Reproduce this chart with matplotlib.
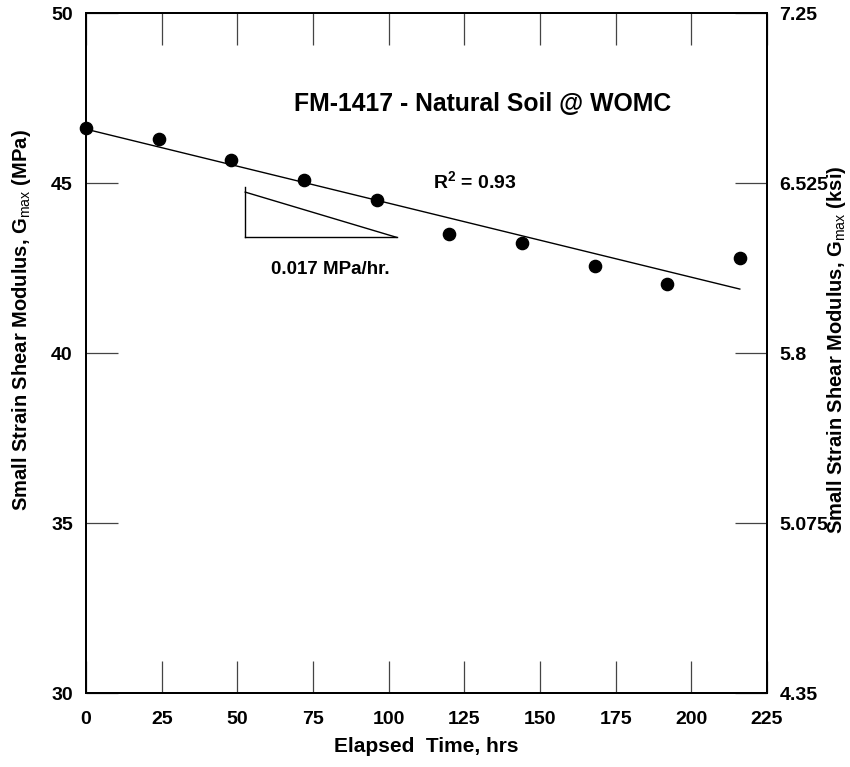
import numpy as np
import matplotlib
matplotlib.use("Agg")
import matplotlib.pyplot as plt
from matplotlib.ticker import FixedLocator, FixedFormatter

# Elapsed time (hrs) and measured small-strain shear modulus (MPa)
elapsed_hrs = [0, 24, 48, 72, 96, 120, 144, 168, 192, 216]
gmax_mpa = [46.62, 46.29, 45.69, 45.10, 44.51, 43.52, 43.25, 42.58, 42.04, 42.80]

x_ticks = [0, 25, 50, 75, 100, 125, 150, 175, 200, 225]
y_ticks_mpa = [30, 35, 40, 45, 50]
y_ticks_ksi = [4.35, 5.075, 5.8, 6.525, 7.25]
y_tick_labels_ksi = ["4.35", "5.075", "5.8", "6.525", "7.25"]

title_text = "FM-1417 - Natural Soil @ WOMC"
r2_text = r"R$^{\mathbf{2}}$ = 0.93"
rate_text = "0.017 MPa/hr."
xlabel_text = "Elapsed  Time, hrs"
ylabel_left = r"Small Strain Shear Modulus, G$_{\rm max}$ (MPa)"
ylabel_right = r"Small Strain Shear Modulus, G$_{\rm max}$ (ksi)"

# slope triangle corners (data units)
tri_x = [52.6, 102.6]
tri_y = [43.41, 44.74]
tri_top = 44.88

FONT = "Liberation Sans"
plt.rcParams["mathtext.fontset"] = "custom"
plt.rcParams["mathtext.rm"] = FONT
plt.rcParams["mathtext.bf"] = FONT + ":bold"

fig = plt.figure(figsize=(8.5, 7.67), dpi=100)
ax = fig.add_axes([0.1012, 0.0961, 0.8012, 0.8866])

ax.set_xlim(0, 225)
ax.set_ylim(30, 50)

# measured points
ax.plot(elapsed_hrs, gmax_mpa, "o", color="black", markersize=8.8, zorder=5, clip_on=False)

# least-squares trend line
coef = np.polyfit(elapsed_hrs, gmax_mpa, 1)
fit_x = np.array([elapsed_hrs[0], elapsed_hrs[-1]])
ax.plot(fit_x, np.polyval(coef, fit_x), color="black", lw=1.0, zorder=4)

# slope triangle
ax.plot([tri_x[0], tri_x[0]], [tri_y[0], tri_top], color="black", lw=1.0)
ax.plot([tri_x[0], tri_x[1]], [tri_y[0], tri_y[0]], color="black", lw=1.0)
ax.plot([tri_x[0], tri_x[1]], [tri_y[1], tri_y[0]], color="black", lw=1.0)

ax.text(80.6, 42.45, rate_text, ha="center", va="center", fontsize=13.5,
        fontweight="bold", family=FONT)
ax.text(114.5, 45.05, r2_text, ha="left", va="center", fontsize=14,
        fontweight="bold", family=FONT)
ax.text(0.583, 0.866, title_text, transform=ax.transAxes, ha="center", va="center",
        fontsize=17.8, fontweight="bold", family=FONT)

for side in ax.spines.values():
    side.set_linewidth(1.4)

ax.xaxis.set_major_locator(FixedLocator(x_ticks))
ax.yaxis.set_major_locator(FixedLocator(y_ticks_mpa))
ax.tick_params(axis="both", direction="in", length=23, width=0.9, color="#444444",
               labelsize=14, pad=9.5)
ax.tick_params(axis="x", top=True, pad=13)
for lab in ax.get_xticklabels() + ax.get_yticklabels():
    lab.set_fontweight("bold")
    lab.set_family(FONT)

# secondary axis in ksi
ax2 = ax.twinx()
ax2.set_ylim(y_ticks_ksi[0], y_ticks_ksi[-1])
ax2.yaxis.set_major_locator(FixedLocator(y_ticks_ksi))
ax2.yaxis.set_major_formatter(FixedFormatter(y_tick_labels_ksi))
ax2.tick_params(axis="y", direction="in", length=23, width=0.9, color="#444444",
                labelsize=14, pad=9)
for lab in ax2.get_yticklabels():
    lab.set_fontweight("bold")
    lab.set_family(FONT)
for side in ax2.spines.values():
    side.set_linewidth(1.4)

# axis titles
fig.text(426.5 / 850, 1 - 747 / 767, xlabel_text, ha="center", va="center",
         fontsize=15, fontweight="bold", family=FONT)
fig.text(22 / 850, 1 - 320 / 767, ylabel_left, ha="center", va="center",
         rotation=90, fontsize=14.5, fontweight="bold", family=FONT)
fig.text(837 / 850, 1 - 350 / 767, ylabel_right, ha="center", va="center",
         rotation=90, fontsize=14.5, fontweight="bold", family=FONT)

fig.savefig("out.png", dpi=100)
